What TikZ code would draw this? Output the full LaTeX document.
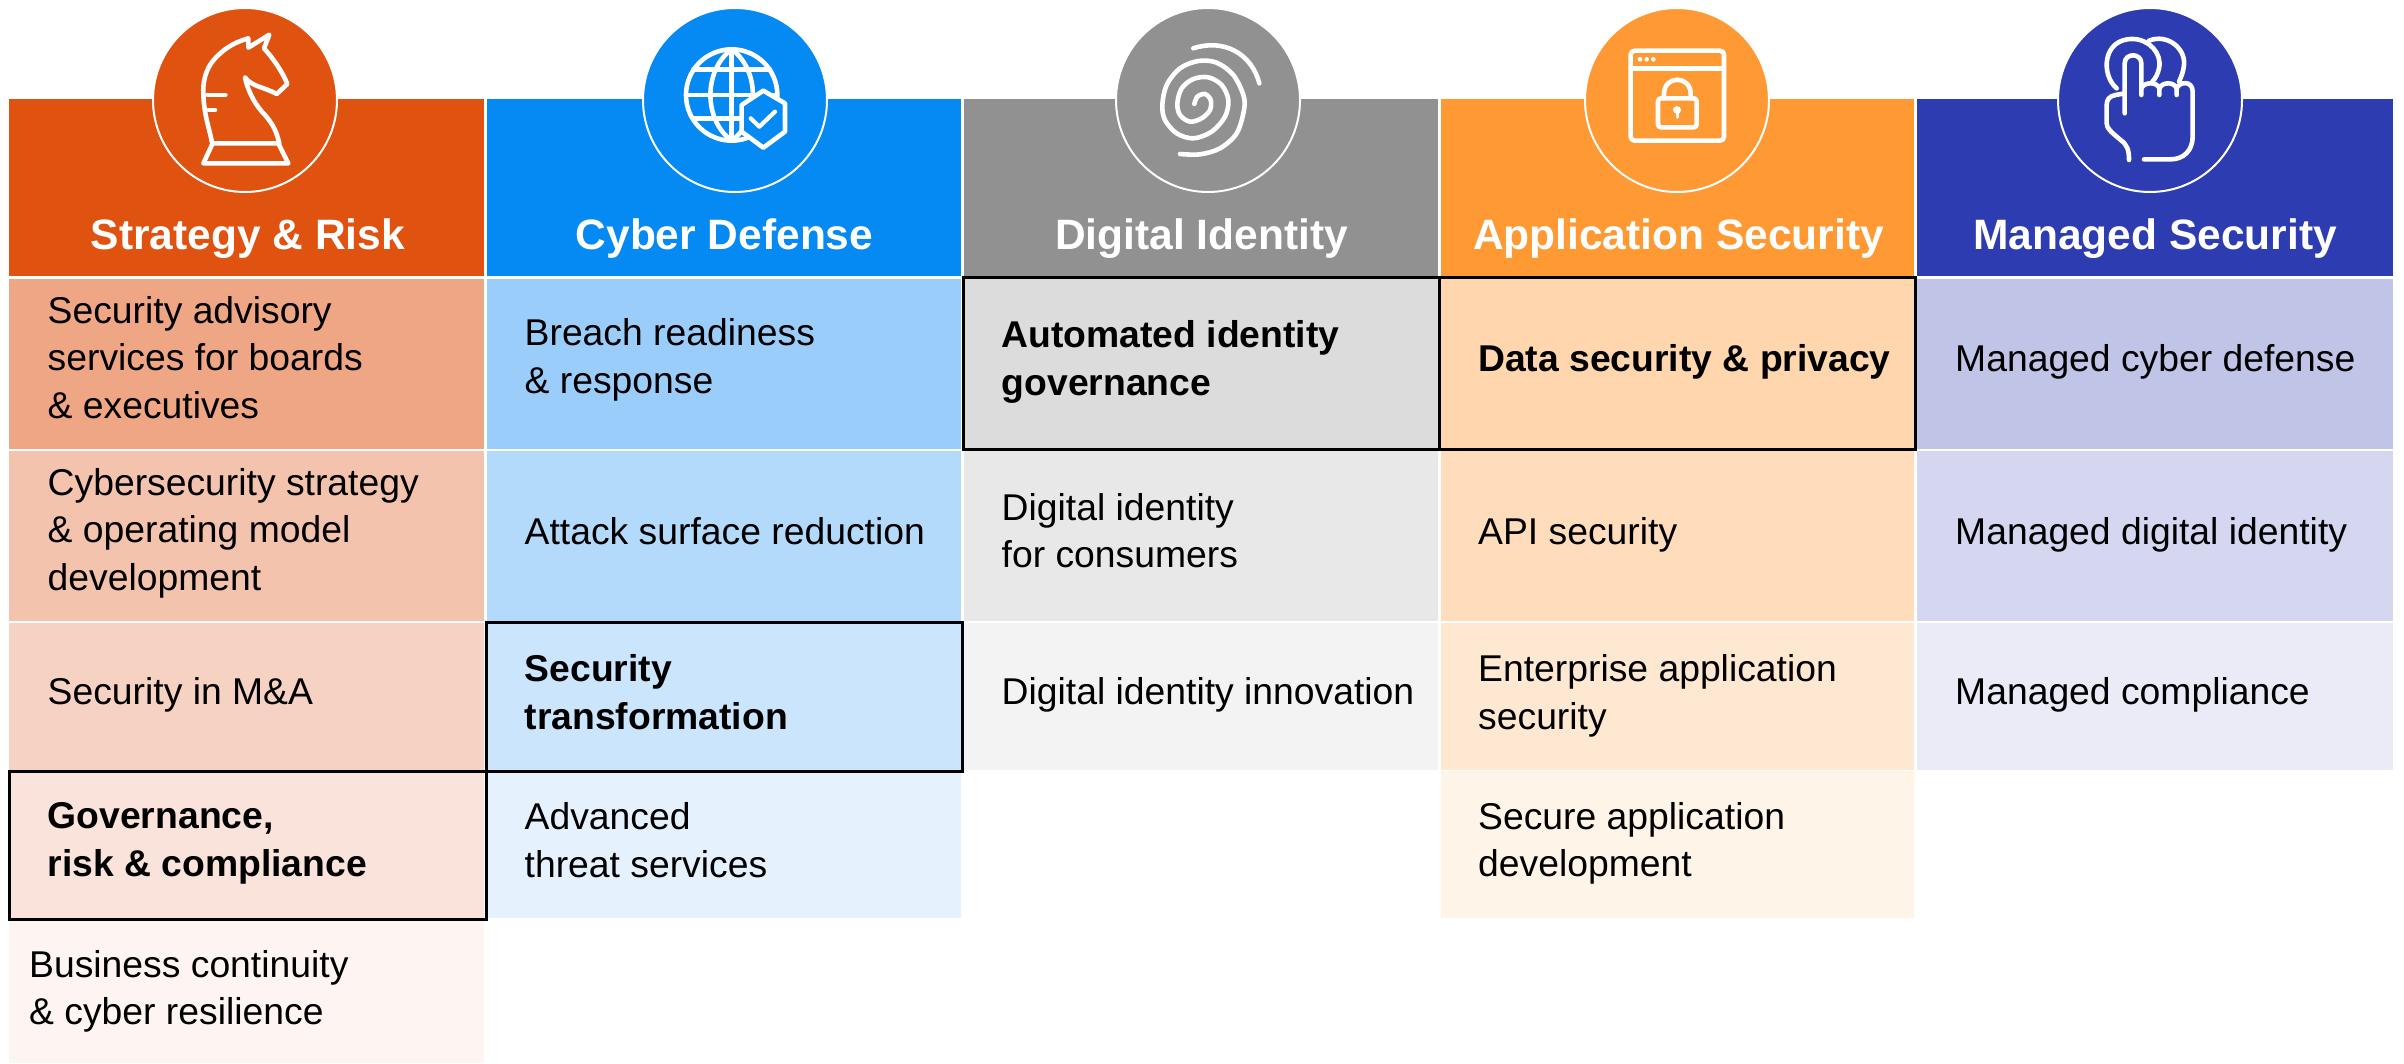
\documentclass[tikz,border=0pt]{standalone}
\usepackage{fontspec}
\setmainfont{Liberation Sans}
\definecolor{hA}{HTML}{DF5210}\definecolor{hB}{HTML}{0589F2}\definecolor{hC}{HTML}{919191}\definecolor{hD}{HTML}{FF9933}\definecolor{hE}{HTML}{2D3CB0}
\definecolor{a1}{HTML}{EFA685}\definecolor{a2}{HTML}{F4C3AD}\definecolor{a3}{HTML}{F6D2C3}\definecolor{a4}{HTML}{FAE3DB}\definecolor{a5}{HTML}{FEF5F2}
\definecolor{b1}{HTML}{9ACDFA}\definecolor{b2}{HTML}{B3D9FB}\definecolor{b3}{HTML}{CBE5FC}\definecolor{b4}{HTML}{E5F2FD}
\definecolor{c1}{HTML}{DCDCDC}\definecolor{c2}{HTML}{E8E8E8}\definecolor{c3}{HTML}{F3F3F3}
\definecolor{d1}{HTML}{FFD6AD}\definecolor{d2}{HTML}{FFDDBC}\definecolor{d3}{HTML}{FFE8D2}\definecolor{d4}{HTML}{FFF4E8}
\definecolor{e1}{HTML}{C0C4E7}\definecolor{e2}{HTML}{D5D7F0}\definecolor{e3}{HTML}{EAEBF7}
\tikzset{
  boxcell/.style={inner sep=0pt,outer sep=0pt,anchor=center},
  bodytext/.style={inner sep=0pt,anchor=west,align=left,text=black,font=\fontsize{37.3}{47.5}\selectfont},
  boldtext/.style={bodytext,font=\fontsize{37.3}{47.5}\selectfont\bfseries},
  headtext/.style={inner sep=0pt,anchor=base,text=white,font=\fontsize{42.5}{50}\selectfont\bfseries},
  ring/.style={circle,inner sep=0pt,outer sep=0pt,minimum size=184pt,line width=2pt,draw=white},
  iconline/.style={draw=white,line width=4.6pt,line cap=round,line join=round},
  outlined/.style={draw=black,line width=3pt,fill=none,inner sep=0pt,outer sep=0pt},
}
% name, x0, y0, x1, y1, colour
\newcommand{\cellrect}[6]{\node[boxcell,fill=#6,minimum width={(#4-#2)*1pt},minimum height={(#5-#3)*1pt}] (#1) at ({(#2+#4)/2},{(#3+#5)/2}) {};}
\newcommand{\cellword}[5]{\node[#1] (#2) at ({#3},{#4}) {#5};}
\begin{document}
\begin{tikzpicture}[x=1pt,y=-1pt]
\useasboundingbox (0,0) rectangle (2404,1063);
% headers
\cellrect{hdA}{9}{99}{484}{276}{hA}
\cellrect{hdB}{487}{99}{961}{276}{hB}
\cellrect{hdC}{964}{99}{1438}{276}{hC}
\cellrect{hdD}{1441}{99}{1914}{276}{hD}
\cellrect{hdE}{1917}{99}{2393}{276}{hE}
\node[ring,fill=hA] (rA) at (245,100) {};
\node[ring,fill=hB] (rB) at (735,100) {};
\node[ring,fill=hC] (rC) at (1208,100) {};
\node[ring,fill=hD] (rD) at (1677,100) {};
\node[ring,fill=hE] (rE) at (2150,100) {};
\node[headtext] (tA) at (248,249) {Strategy \& Risk};
\node[headtext] (tB) at (724.5,249) {Cyber Defense};
\node[headtext] (tC) at (1201.5,249) {Digital Identity};
\node[headtext] (tD) at (1678.5,249) {Application Security};
\node[headtext] (tE) at (2155,249) {Managed Security};
% column A
\cellrect{aA}{9}{279}{484}{449}{a1}
\cellrect{aB}{9}{451}{484}{621}{a2}
\cellrect{aC}{9}{623}{484}{770}{a3}
\cellrect{aD}{9}{771}{484}{919}{a4}
\cellrect{aE}{9}{920}{484}{1063}{a5}
\cellword{bodytext}{taA}{47.5}{357.5}{Security advisory\\services for boards\\\& executives}
\cellword{bodytext}{taB}{47.5}{533}{Cybersecurity strategy\\\& operating model\\development}
\cellword{bodytext}{taC}{47.5}{695}{Security in M\&A}
\cellword{boldtext}{taD}{47.5}{843.5}{Governance,\\risk \& compliance}
\cellword{bodytext}{taE}{29}{991.5}{Business continuity\\\& cyber resilience}
% column B
\cellrect{bA}{487}{279}{961}{449}{b1}
\cellrect{bB}{487}{451}{961}{621}{b2}
\cellrect{bC}{487}{623}{961}{770}{b3}
\cellrect{bD}{487}{771}{961}{918}{b4}
\cellword{bodytext}{tbA}{524.5}{360}{Breach readiness\\\& response}
\cellword{bodytext}{tbB}{524.5}{531}{Attack surface reduction}
\cellword{boldtext}{tbC}{524.5}{692}{Security\\transformation}
\cellword{bodytext}{tbD}{524.5}{840}{Advanced\\threat services}
% column C
\cellrect{cA}{964}{279}{1438}{449}{c1}
\cellrect{cB}{964}{451}{1438}{621}{c2}
\cellrect{cC}{964}{623}{1438}{770}{c3}
\cellword{boldtext}{tcA}{1001.5}{362}{Automated identity\\governance}
\cellword{bodytext}{tcB}{1001.5}{530.5}{Digital identity\\for consumers}
\cellword{bodytext}{tcC}{1001.5}{695}{Digital identity innovation}
% column D
\cellrect{dA}{1441}{279}{1914}{449}{d1}
\cellrect{dB}{1441}{451}{1914}{621}{d2}
\cellrect{dC}{1441}{623}{1914}{770}{d3}
\cellrect{dD}{1441}{771}{1914}{918}{d4}
\cellword{boldtext}{tdA}{1478}{362}{Data security \& privacy}
\cellword{bodytext}{tdB}{1478}{535}{API security}
\cellword{bodytext}{tdC}{1478}{696}{Enterprise application\\security}
\cellword{bodytext}{tdD}{1478}{843.5}{Secure application\\development}
% column E
\cellrect{eA}{1917}{279}{2393}{449}{e1}
\cellrect{eB}{1917}{451}{2393}{621}{e2}
\cellrect{eC}{1917}{623}{2393}{770}{e3}
\cellword{bodytext}{teA}{1955}{362}{Managed cyber defense}
\cellword{bodytext}{teB}{1955}{535}{Managed digital identity}
\cellword{bodytext}{teC}{1955}{695}{Managed compliance}
% outlined cells
\draw[outlined] (9,771) rectangle (486,919);
\draw[outlined] (486,622) rectangle (962,771);
\draw[outlined] (963,277) rectangle (1439,449);
\draw[outlined] (1439,277) rectangle (1915,449);
% knight
\begin{scope}[x=1pt/3,y=-1pt/3]
\draw[iconline] (610,490)--(865,490)--(835,430)--(638,430)--cycle;
\draw[iconline] (636,428) .. controls (630,390) and (612,350) .. (610,280) .. controls (608,230) and (625,195) .. (650,170) .. controls (680,140) and (710,125) .. (745,115) -- (745,143) -- (808,104) -- (792,145) .. controls (820,175) and (850,220) .. (862,252) -- (830,282) .. controls (790,260) and (755,260) .. (735,232) .. controls (745,280) and (770,320) .. (795,345) .. controls (825,380) and (830,400) .. (838,430);
\draw[iconline] (622,285)--(676,285);
\draw[iconline] (625,330)--(645,330);
\end{scope}
% globe
\begin{scope}[shift={(480,0)},x=1pt/3,y=-1pt/3]
\draw[iconline] (755,285) circle[radius=137];
\draw[iconline] (755,148) .. controls (670,210) and (670,360) .. (755,422);
\draw[iconline] (755,148) .. controls (840,210) and (840,360) .. (755,422);
\draw[iconline] (755,148)--(755,422);
\draw[iconline] (640,208)--(870,208);
\draw[iconline] (620,285)--(890,285);
\draw[iconline] (640,355)--(870,355);
\draw[draw=white,fill=hB,line width=4.6pt,line join=round] (850,272)--(915,310)--(915,395)--(850,443)--(785,395)--(785,315)--cycle;
\draw[iconline,line width=4.2pt] (812,355)--(838,380)--(885,335);
\end{scope}
% fingerprint
\begin{scope}[shift={(960,0)},x=1pt/3,y=-1pt/3]
\draw[iconline] (700,145) .. controls (790,115) and (875,160) .. (898,250);
\draw[iconline] plot[smooth,tension=0.55] coordinates {(660,462) (720,463) (780,445) (830,400) (852,330) (850,285) (820,225) (770,188) (715,183) (660,205) (620,255) (607,315) (615,360) (650,400) (700,415) (755,395) (795,350) (805,300) (785,255) (745,232) (700,237) (665,265) (652,310) (660,345) (690,365) (725,355) (750,330) (752,300) (735,282) (712,290) (703,312)};
\end{scope}
% window lock
\begin{scope}[shift={(1440,0)},x=1pt/3,y=-1pt/3]
\draw[iconline,rounded corners=4pt] (572,152) rectangle (852,422);
\draw[iconline] (572,205)--(852,205);
\fill[white] (600,178) circle[radius=7] (620,178) circle[radius=7] (640,178) circle[radius=7];
\draw[iconline,rounded corners=3pt] (654,295) rectangle (770,382);
\draw[iconline] (672,295) -- (672,282) .. controls (672,225) and (752,225) .. (752,282) -- (752,295);
\fill[white] (711,330) circle[radius=12];
\draw[draw=white,line width=3pt,line cap=round] (711,332)--(711,352);
\end{scope}
% hand
\begin{scope}[shift={(1904,0)},x=1pt/3,y=-1pt/3]
\draw[iconline] (638,265) .. controls (590,225) and (595,115) .. (687,117) .. controls (735,118) and (775,160) .. (765,205) .. controls (762,220) and (755,235) .. (745,245);
\draw[iconline] (735,122) .. controls (790,100) and (845,145) .. (840,195) .. controls (838,215) and (832,230) .. (825,245);
\draw[iconline] (662,340)--(662,190) .. controls (662,158) and (712,158) .. (712,190) -- (712,285);
\draw[iconline] (712,265) .. controls (720,245) and (760,245) .. (766,265) -- (766,285);
\draw[iconline] (766,265) .. controls (775,245) and (810,245) .. (818,265) -- (818,285);
\draw[iconline] (818,265) .. controls (825,245) and (866,240) .. (866,275) -- (866,410) .. controls (866,450) and (840,478) .. (800,478) -- (720,478);
\draw[iconline] (662,280) -- (635,285) .. controls (615,288) and (608,300) .. (608,315) -- (608,370) .. controls (608,385) and (620,395) .. (650,420) .. controls (670,435) and (675,450) .. (675,480);
\end{scope}
\end{tikzpicture}
\end{document}
